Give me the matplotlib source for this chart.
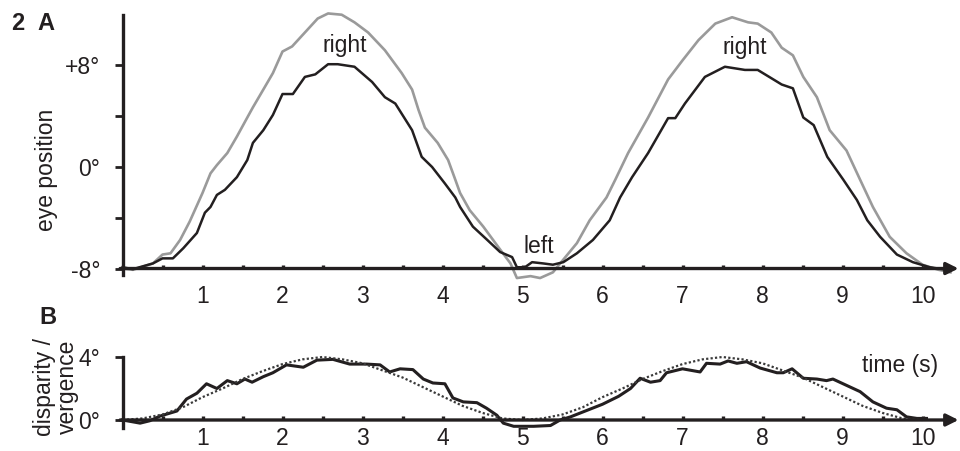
import numpy as np
import matplotlib.pyplot as plt

plt.rcParams['font.family'] = ['Liberation Sans', 'DejaVu Sans']

# panel A: eye position traces (deg)
gray_t = [0.0, 0.13, 0.38, 0.5, 0.6, 0.72, 0.84, 1.0, 1.1, 1.18, 1.31, 1.43, 1.56, 1.63,
          1.76, 1.88, 2.0, 2.12, 2.28, 2.44, 2.57, 2.74, 2.9, 3.07, 3.28, 3.49, 3.62, 3.7,
          3.78, 3.94, 4.07, 4.16, 4.22, 4.34, 4.51, 4.72, 4.85, 4.93, 5.1, 5.22, 5.38, 5.51,
          5.68, 5.84, 6.05, 6.16, 6.32, 6.57, 6.82, 7.0, 7.2, 7.41, 7.62, 7.82, 7.94, 8.11,
          8.24, 8.38, 8.51, 8.68, 8.84, 9.05, 9.22, 9.38, 9.59, 9.8, 10.0, 10.2, 10.35]
gray_pos = [-8.0, -8.1, -7.6, -6.9, -6.8, -5.75, -4.3, -2.05, -0.5, 0.15, 1.1, 2.4, 3.9, 4.7,
            6.1, 7.4, 9.1, 9.5, 10.6, 11.7, 12.1, 12.0, 11.4, 10.6, 9.2, 7.4, 6.1, 4.5,
            3.1, 1.9, 0.55, -1.0, -2.05, -3.4, -4.7, -6.5, -7.6, -8.75, -8.6, -8.75, -8.3, -7.3,
            -6.0, -4.2, -2.4, -1.0, 1.1, 3.9, 6.9, 8.4, 10.0, 11.3, 11.8, 11.4, 11.3, 10.6,
            9.4, 8.8, 7.1, 5.5, 2.9, 1.3, -1.0, -3.15, -5.5, -6.8, -7.7, -8.1, -8.3]

black_t = [0.0, 0.13, 0.38, 0.5, 0.63, 0.76, 0.93, 1.03, 1.1, 1.18, 1.28, 1.43, 1.56, 1.63,
           1.76, 1.88, 2.0, 2.13, 2.28, 2.41, 2.57, 2.69, 2.9, 3.12, 3.28, 3.41, 3.62, 3.74,
           3.87, 4.03, 4.16, 4.22, 4.38, 4.56, 4.72, 4.87, 4.93, 5.03, 5.12, 5.26, 5.38, 5.51,
           5.68, 5.88, 6.09, 6.22, 6.37, 6.57, 6.82, 6.91, 7.03, 7.28, 7.53, 7.78, 7.94, 8.11,
           8.24, 8.38, 8.51, 8.64, 8.81, 9.01, 9.18, 9.31, 9.47, 9.68, 9.88, 10.09, 10.3]
black_pos = [-7.9, -8.05, -7.6, -7.2, -7.2, -6.4, -5.2, -3.6, -3.15, -2.2, -1.8, -0.8, 0.55, 1.9,
             2.9, 4.1, 5.75, 5.75, 7.1, 7.3, 8.1, 8.1, 7.9, 6.7, 5.5, 5.0, 2.9, 0.8,
             0.0, -1.3, -2.4, -3.15, -4.7, -5.75, -6.7, -7.1, -7.9, -7.9, -7.5, -7.6, -7.7, -7.5,
             -6.8, -5.75, -4.2, -2.4, -0.8, 1.1, 3.85, 3.85, 5.0, 7.1, 7.9, 7.65, 7.65, 7.0,
             6.5, 6.2, 3.9, 3.3, 0.8, -1.0, -2.6, -4.2, -5.5, -6.9, -7.5, -7.9, -8.1]

# panel B: measured vergence (solid) and stimulus disparity (dotted)
verg_t = [0.0, 0.22, 0.34, 0.47, 0.68, 0.8, 0.93, 1.05, 1.18, 1.31, 1.43, 1.53, 1.62, 1.76,
          1.88, 2.05, 2.26, 2.43, 2.63, 2.84, 3.05, 3.22, 3.34, 3.47, 3.63, 3.76, 3.88, 4.03,
          4.13, 4.26, 4.43, 4.55, 4.68, 4.76, 4.89, 5.14, 5.35, 5.47, 5.6, 5.8, 6.0, 6.2,
          6.35, 6.47, 6.6, 6.72, 6.8, 7.0, 7.22, 7.3, 7.47, 7.57, 7.68, 7.8, 7.97, 8.18,
          8.26, 8.37, 8.51, 8.68, 8.8, 8.88, 9.05, 9.22, 9.38, 9.55, 9.68, 9.8, 9.93, 10.05]
verg = [0.0, -0.2, -0.05, 0.25, 0.57, 1.33, 1.7, 2.3, 2.0, 2.5, 2.3, 2.6, 2.4, 2.75,
        3.0, 3.5, 3.35, 3.8, 3.85, 3.55, 3.55, 3.5, 3.05, 3.25, 3.2, 2.6, 2.35, 2.3,
        1.4, 1.15, 1.1, 0.75, 0.3, -0.2, -0.4, -0.4, -0.35, 0.0, 0.2, 0.6, 1.0, 1.5,
        2.0, 2.65, 2.4, 2.5, 3.0, 3.25, 3.05, 3.6, 3.55, 3.75, 3.6, 3.7, 3.3, 3.0,
        3.0, 3.25, 2.65, 2.6, 2.5, 2.6, 2.2, 1.8, 1.15, 0.75, 0.65, 0.2, 0.1, 0.1]

disp_t = [0.0, 0.25, 0.5, 0.75, 1.0, 1.25, 1.5, 1.75, 2.0, 2.25, 2.5, 2.75, 3.0, 3.25,
          3.5, 3.75, 4.0, 4.25, 4.5, 4.75, 5.0, 5.25, 5.5, 5.75, 6.0, 6.25, 6.5, 6.75,
          7.0, 7.25, 7.5, 7.75, 8.0, 8.25, 8.5, 8.75, 9.0, 9.25, 9.5, 9.75, 10.0]
disp = [0.0, 0.1, 0.35, 0.8, 1.45, 2.0, 2.6, 3.1, 3.55, 3.85, 4.0, 3.85, 3.6, 3.15,
        2.7, 2.1, 1.5, 0.9, 0.45, 0.1, 0.0, 0.1, 0.35, 0.8, 1.45, 2.0, 2.6, 3.1,
        3.55, 3.85, 4.0, 3.85, 3.6, 3.15, 2.7, 2.1, 1.5, 0.9, 0.45, 0.1, 0.0]

xticks = np.arange(0.5, 10.01, 0.5)
xlabels = [str(int(v)) if v == int(v) else '' for v in xticks]
ink = '#231f20'
fs = 16.5

fig = plt.figure(figsize=(9.6, 4.51), dpi=100)

# t=0 sits at x=122.5 px, 80 px per second
xlim = ((110 - 122.5) / 80, (960 - 122.5) / 80)

axA = fig.add_axes([110 / 960, 1 - 290 / 451, 850 / 960, 280 / 451])
axB = fig.add_axes([110 / 960, 1 - 430 / 451, 850 / 960, 85 / 451])

# ---- panel A
axA.plot(gray_t, gray_pos, color='#9a9a9a', lw=1.9, solid_joinstyle='round')
axA.plot(black_t, black_pos, color=ink, lw=1.8, solid_joinstyle='round')
axA.set_xlim(*xlim)
axA.set_ylim((167 - 290) / 12.69, (167 - 10) / 12.69)

axA.text(2.78, 9.6, 'right', fontsize=fs, ha='center', va='center', color=ink)
axA.text(7.78, 9.4, 'right', fontsize=fs, ha='center', va='center', color=ink)
axA.text(5.2, -6.3, 'left', fontsize=fs, ha='center', va='center', color=ink)

# ---- panel B
axB.plot(verg_t, verg, color=ink, lw=2.2, solid_joinstyle='round')
axB.plot(disp_t, disp, color='#3a3a3a', lw=1.6, ls=(0, (1, 1)))
axB.set_xlim(*xlim)
axB.set_ylim((420 - 430) / 15.75, (420 - 345) / 15.75)
axB.text(9.72, 3.43, 'time (s)', fontsize=fs, ha='center', va='center', color=ink)

for ax, y0, ylo, yhi, yt, ytl, xpad in [
        (axA, -8, -8.5, 12.0, [-8, -4, 0, 4, 8], ['-8°', '', '0°', '', '+8°'], 12),
        (axB, 0, -0.5, 4.0, [0, 4], ['0°', '4°'], 5)]:
    for s in ['top', 'right']:
        ax.spines[s].set_visible(False)
    ax.spines['bottom'].set_position(('data', y0))
    ax.spines['bottom'].set_visible(False)
    ax.spines['left'].set_position(('data', 0))
    ax.spines['left'].set_bounds(ylo, yhi)
    ax.spines['left'].set_linewidth(2.4)
    ax.spines['left'].set_color(ink)
    ax.set_yticks(yt)
    ax.set_yticklabels(ytl)
    ax.tick_params(axis='y', direction='out', length=6, width=2.0, color=ink,
                   labelsize=fs, labelcolor=ink, pad=10)
    ax.set_xticks(xticks)
    ax.set_xticklabels(xlabels)
    ax.tick_params(axis='x', direction='in', length=3, width=2.4, color=ink,
                   labelsize=fs, labelcolor=ink, pad=xpad)
    ax.annotate('', xy=(10.45, y0), xytext=(-0.03, y0),
                arrowprops=dict(arrowstyle='-|>', lw=2.4, color=ink,
                                mutation_scale=18, shrinkA=0, shrinkB=0),
                annotation_clip=False)

fig.text(11 / 960, 1 - 24 / 451, '2', fontsize=17, fontweight='bold', color=ink,
         ha='left', va='center')
fig.text(37 / 960, 1 - 24 / 451, 'A', fontsize=17, fontweight='bold', color=ink,
         ha='left', va='center')
fig.text(39 / 960, 1 - 318 / 451, 'B', fontsize=17, fontweight='bold', color=ink,
         ha='left', va='center')
fig.text(46 / 960, 1 - 170 / 451, 'eye position', fontsize=fs, rotation=90,
         ha='center', va='center', color=ink)
fig.text(56 / 960, 1 - 387 / 451, 'disparity /\nvergence', fontsize=fs, rotation=90,
         ha='center', va='center', color=ink, linespacing=0.95)

fig.savefig('out.png', dpi=100)
